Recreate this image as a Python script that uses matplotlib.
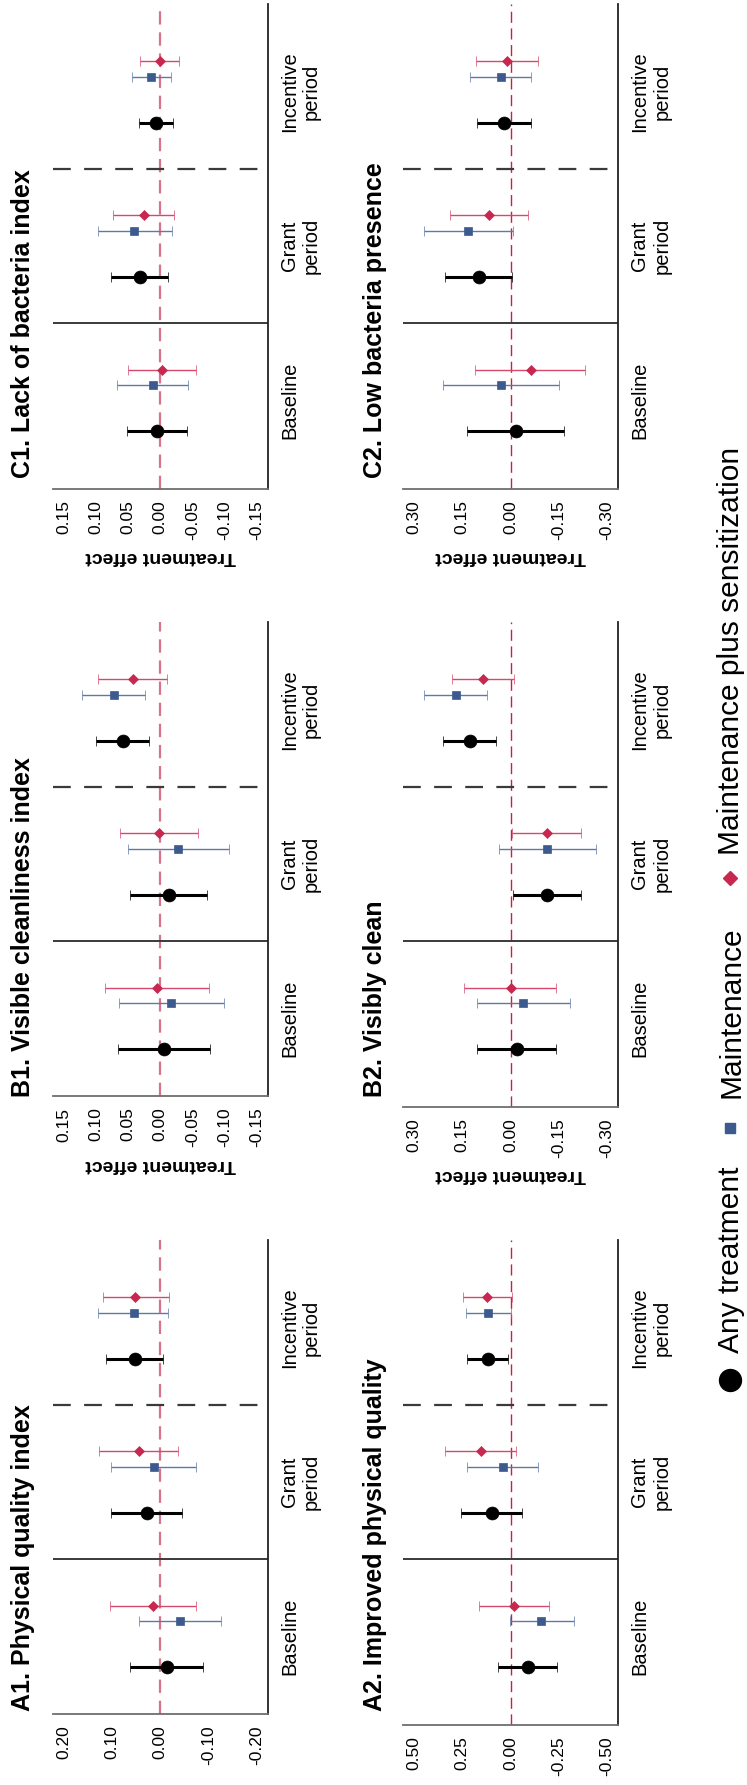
import matplotlib
matplotlib.use('Agg')
import matplotlib.pyplot as plt
from matplotlib.lines import Line2D
import numpy as np

plt.rcParams['font.family'] = ['Liberation Sans', 'DejaVu Sans']

# ---------------- data ----------------
periods = ['Baseline', 'Grant\nperiod', 'Incentive\nperiod']
series_names = ['Any treatment', 'Maintenance', 'Maintenance plus sensitization']

# rows: Any treatment, Maintenance, Maintenance plus sensitization
# columns: Baseline, Grant period, Incentive period
a1_est = [[-0.013, 0.028, 0.052], [-0.041, 0.012, 0.0545], [0.0145, 0.043, 0.052]]
a1_lo = [[-0.089, -0.044, -0.006], [-0.1255, -0.075, -0.017], [-0.075, -0.037, -0.019]]
a1_hi = [[0.063, 0.102, 0.112], [0.043, 0.101, 0.128], [0.104, 0.126, 0.119]]

a2_est = [[-0.090, 0.098, 0.117], [-0.160, 0.040, 0.1155], [-0.017, 0.155, 0.121]]
a2_lo = [[-0.2415, -0.058, 0.0155], [-0.328, -0.141, 0.0], [-0.200, -0.026, -0.005]]
a2_hi = [[0.0655, 0.259, 0.224], [0.005, 0.224, 0.233], [0.164, 0.340, 0.248]]

b1_est = [[-0.0056, -0.0134, 0.058], [-0.017, -0.028, 0.0725], [0.005, 0.002, 0.0425]]
b1_lo = [[-0.0765, -0.073, 0.017], [-0.099, -0.1075, 0.024], [-0.075, -0.058, -0.011]]
b1_hi = [[0.0658, 0.0476, 0.099], [0.064, 0.050, 0.122], [0.085, 0.063, 0.097]]

b2_est = [[-0.019, -0.113, 0.127], [-0.040, -0.113, 0.169], [0.000, -0.113, 0.084]]
b2_lo = [[-0.141, -0.219, 0.046], [-0.1835, -0.264, 0.072], [-0.142, -0.219, -0.010]]
b2_hi = [[0.103, -0.008, 0.209], [0.104, 0.037, 0.268], [0.143, -0.005, 0.182]]

c1_est = [[0.005, 0.032, 0.006], [0.012, 0.040, 0.014], [-0.0025, 0.026, 0.001]]
c1_lo = [[-0.041, -0.012, -0.020], [-0.043, -0.0175, -0.017], [-0.055, -0.022, -0.029]]
c1_hi = [[0.051, 0.076, 0.033], [0.067, 0.097, 0.0435], [0.050, 0.0735, 0.031]]

c2_est = [[-0.017, 0.098, 0.021], [0.030, 0.1315, 0.030], [-0.063, 0.067, 0.0125]]
c2_lo = [[-0.165, -0.006, -0.063], [-0.149, -0.008, -0.064], [-0.232, -0.054, -0.0845]]
c2_hi = [[0.135, 0.2025, 0.1045], [0.211, 0.270, 0.125], [0.110, 0.187, 0.106]]

titles = ['A1. Physical quality index', 'A2. Improved physical quality',
          'B1. Visible cleanliness index', 'B2. Visibly clean',
          'C1. Lack of bacteria index', 'C2. Low bacteria presence']
ticks_a1 = [0.20, 0.10, 0.00, -0.10, -0.20]
ticks_a2 = [0.50, 0.25, 0.00, -0.25, -0.50]
ticks_b1 = [0.15, 0.10, 0.05, 0.00, -0.05, -0.10, -0.15]
ticks_b2 = [0.30, 0.15, 0.00, -0.15, -0.30]
ticks_c1 = [0.15, 0.10, 0.05, 0.00, -0.05, -0.10, -0.15]
ticks_c2 = [0.30, 0.15, 0.00, -0.15, -0.30]

# ---------------- layout ----------------
W, H = 747, 1785
fig = plt.figure(figsize=(W / 100, H / 100), dpi=100)


def fbox(x0, y0, x1, y1):
    return [x0 / W, 1 - y1 / H, (x1 - x0) / W, (y1 - y0) / H]


UNIT = 154.3
YHI = 3.57
AX_W = 214.5
col_x = {1: 53.0, 2: 403.3}
row_top = {'C': 4.0, 'B': 622.0, 'A': 1240.0}
title_bottom = {'C': 478, 'B': 1097, 'A': 1711}
title_x = {1: 23, 2: 375}

panels = [
    ('A', 1, titles[0], a1_est, a1_lo, a1_hi, ticks_a1, 0.50),
    ('A', 2, titles[1], a2_est, a2_lo, a2_hi, ticks_a2, 0.43),
    ('B', 1, titles[2], b1_est, b1_lo, b1_hi, ticks_b1, 0.50),
    ('B', 2, titles[3], b2_est, b2_lo, b2_hi, ticks_b2, 0.43),
    ('C', 1, titles[4], c1_est, c1_lo, c1_hi, ticks_c1, 0.43),
    ('C', 2, titles[5], c2_est, c2_lo, c2_hi, ticks_c2, 0.43),
]

offsets = [-0.2, 0.1, 0.2]
mcolors = ['black', '#3d5a8e', '#c8284f']
lcolors = ['black', '#5f79a6', '#d4496c']
markers = ['o', 's', 'D']
msizes = [9.3, 5.8, 4.6]
lws = [2.2, 1.0, 1.0]
caps = [3.6, 3.3, 3.3]

for row, col, title, est_all, lo_all, hi_all, ticks, ylo in panels:
    x0 = col_x[col]
    y0 = row_top[row]
    ax = fig.add_axes(fbox(x0, y0, x0 + AX_W, y0 + (YHI - ylo) * UNIT))
    h = max(ticks) * 1.11
    ax.set_xlim(h, -h)
    ax.set_ylim(ylo, YHI)
    if col == 1:
        ax.axvline(0, color='#d9738a', lw=1.6, dashes=(6, 3.5), zorder=1)
    else:
        ax.axvline(0, color='#c8203f', lw=1.0, dashes=(8, 4), zorder=1)
    ax.axhline(1.5, color='#3a3a3a', lw=1.4, zorder=1)
    ax.axhline(2.5, color='#3a3a3a', lw=1.6, dashes=(8, 6), zorder=1)
    for k in range(3):
        est = np.array(est_all[k])
        lo = np.array(lo_all[k])
        hi = np.array(hi_all[k])
        pos = np.arange(1, 4) + offsets[k]
        ax.errorbar(est, pos, xerr=[est - lo, hi - est], fmt=markers[k],
                    ms=msizes[k], mfc=mcolors[k], mec=mcolors[k], mew=0.5,
                    ecolor=lcolors[k], elinewidth=lws[k], capsize=caps[k],
                    capthick=lws[k], zorder=3 + k)
    ax.set_xticks(ticks)
    ax.set_xticklabels([f'{t:.2f}' for t in ticks], rotation=90, fontsize=12.5)
    ax.tick_params(axis='x', length=0, pad=8.5)
    ax.yaxis.tick_right()
    ax.set_yticks([1, 2, 3])
    ax.set_yticklabels(periods, rotation=90, fontsize=14.5, ha='left',
                       va='center', multialignment='center')
    ax.tick_params(axis='y', length=0, pad=9)
    ax.spines['top'].set_visible(False)
    ax.spines['left'].set_visible(False)
    ax.spines['bottom'].set_color('#6e6e6e')
    ax.spines['bottom'].set_linewidth(1.3)
    ax.spines['right'].set_color('#222222')
    ax.spines['right'].set_linewidth(1.3)
    if row != 'A':
        ax.set_xlabel('Treatment effect', rotation=180, fontsize=14,
                      fontweight='bold', labelpad=6)
    fig.text(title_x[col] / W, 1 - title_bottom[row] / H, title, rotation=90,
             ha='center', va='bottom', fontsize=18, fontweight='bold')

# ---------------- legend ----------------
leg_marker_y = [1380, 1128, 878]
leg_text_y = [1353, 1098, 855]
leg_ms = [15.8, 7.2, 7.1]
for k in range(3):
    fig.add_artist(Line2D([730 / W], [1 - leg_marker_y[k] / H], marker=markers[k],
                          ms=leg_ms[k], color=mcolors[k], linestyle='none',
                          transform=fig.transFigure))
    fig.text(731 / W, 1 - leg_text_y[k] / H, series_names[k], rotation=90,
             ha='center', va='bottom', fontsize=21.5)

fig.savefig('out.png', dpi=100)
